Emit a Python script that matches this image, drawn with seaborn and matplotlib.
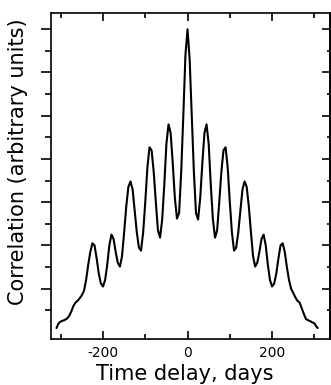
import numpy as np
import pandas as pd
import matplotlib
matplotlib.use("Agg")
import matplotlib.pyplot as plt
import seaborn as sns
from matplotlib.ticker import FixedLocator

# Time delay (days) and correlation (arbitrary units)
delay = [-310, -305, -300, -295, -290, -285, -280, -275, -270, -265, -260, -255,
         -250, -245, -240, -235, -230, -225, -220, -215, -210, -205, -200, -195,
         -190, -185, -180, -175, -170, -165, -160, -155, -150, -145, -140, -135,
         -130, -125, -120, -115, -110, -105, -100, -95, -90, -85, -80, -75,
         -70, -65, -60, -55, -50, -45, -40, -35, -30, -25, -20, -15,
         -10, -5, 0, 5, 10, 15, 20, 25, 30, 35, 40, 45,
         50, 55, 60, 65, 70, 75, 80, 85, 90, 95, 100, 105,
         110, 115, 120, 125, 130, 135, 140, 145, 150, 155, 160, 165,
         170, 175, 180, 185, 190, 195, 200, 205, 210, 215, 220, 225,
         230, 235, 240, 245, 250, 255, 260, 265, 270, 275, 280, 285,
         290, 295, 300, 305, 308]
correlation = [0.09, 0.20, 0.24, 0.26, 0.28, 0.31, 0.37, 0.47, 0.60, 0.68, 0.72, 0.78,
               0.85, 0.95, 1.20, 1.55, 1.85, 2.05, 2.00, 1.70, 1.35, 1.12, 1.05, 1.20,
               1.55, 2.00, 2.25, 2.15, 1.85, 1.60, 1.51, 1.75, 2.30, 2.90, 3.35, 3.48,
               3.30, 2.80, 2.30, 1.95, 1.88, 2.30, 3.00, 3.80, 4.27, 4.20, 3.70, 3.00,
               2.35, 2.18, 2.60, 3.40, 4.35, 4.80, 4.60, 3.90, 3.10, 2.62, 2.75, 3.70,
               5.00, 6.40, 7.00, 6.30, 5.00, 3.70, 2.75, 2.60, 3.10, 3.90, 4.60, 4.80,
               4.35, 3.40, 2.60, 2.18, 2.35, 3.00, 3.70, 4.20, 4.27, 3.80, 3.00, 2.30,
               1.88, 1.95, 2.30, 2.80, 3.30, 3.48, 3.35, 2.90, 2.30, 1.75, 1.51, 1.60,
               1.85, 2.15, 2.25, 2.00, 1.55, 1.20, 1.05, 1.12, 1.35, 1.70, 2.00, 2.05,
               1.85, 1.50, 1.20, 1.00, 0.90, 0.80, 0.72, 0.68, 0.55, 0.42, 0.30, 0.27,
               0.25, 0.22, 0.20, 0.12, 0.09]

xtick_major = [-200, 0, 200]
xtick_labels = ["-200", "0", "200"]
xtick_minor = [-300, -100, 100, 300]
ytick_major = [1, 2, 3, 4, 5, 6, 7]
ytick_minor = [0.5, 1.5, 2.5, 3.5, 4.5, 5.5, 6.5]

df = pd.DataFrame({"delay": delay, "corr": correlation})

sns.set_theme(style="white")
plt.rcParams["font.family"] = ["DejaVu Sans"]
plt.rcParams["text.color"] = "black"
plt.rcParams["axes.labelcolor"] = "black"
plt.rcParams["xtick.color"] = "black"
plt.rcParams["ytick.color"] = "black"

fig = plt.figure(figsize=(3.31, 3.85), dpi=100)
fig.patch.set_facecolor("white")
ax = fig.add_axes([51/331, (385-339)/385, (330-51)/331, (339-13)/385])
ax.set_facecolor("white")

sns.lineplot(data=df, x="delay", y="corr", ax=ax, color="black", linewidth=1.5)

ax.set_xlim(-323, 337)
ax.set_ylim(-0.164, 7.376)

for s in ax.spines.values():
    s.set_visible(True)
    s.set_color("black")
    s.set_linewidth(1.2)

ax.xaxis.set_major_locator(FixedLocator(xtick_major))
ax.xaxis.set_minor_locator(FixedLocator(xtick_minor))
ax.set_xticklabels(xtick_labels, fontsize=10, color="black")
ax.tick_params(axis="x", which="both", direction="in", bottom=True, top=True,
               color="black", labelcolor="black", pad=5)
ax.tick_params(axis="x", which="major", length=6, width=1.2)
ax.tick_params(axis="x", which="minor", length=3.5, width=1.2)

ax.yaxis.set_major_locator(FixedLocator(ytick_major))
ax.yaxis.set_minor_locator(FixedLocator(ytick_minor))
ax.tick_params(axis="y", which="both", direction="out", left=True, right=False,
               labelleft=False, color="black")
ax.tick_params(axis="y", which="major", length=7.5, width=1.2)
ax.tick_params(axis="y", which="minor", length=4.5, width=1.2)

sec = ax.secondary_yaxis("right")
sec.yaxis.set_major_locator(FixedLocator(ytick_major))
sec.yaxis.set_minor_locator(FixedLocator(ytick_minor))
sec.tick_params(axis="y", which="both", direction="in", labelright=False, color="black")
sec.tick_params(axis="y", which="major", length=6, width=1.2)
sec.tick_params(axis="y", which="minor", length=2.5, width=1.2)
sec.spines["right"].set_linewidth(1.2)
sec.spines["right"].set_color("black")

ax.set_xlabel("Time delay, days", fontsize=15, va="center", color="black")
ax.xaxis.set_label_coords((185-51)/279, (339-374)/326)
ax.set_ylabel("Correlation (arbitrary units)", fontsize=15, va="center", color="black")
ax.yaxis.set_label_coords((18-51)/279, (339-161.5)/326)

fig.savefig("out.png", dpi=100, facecolor="white")
